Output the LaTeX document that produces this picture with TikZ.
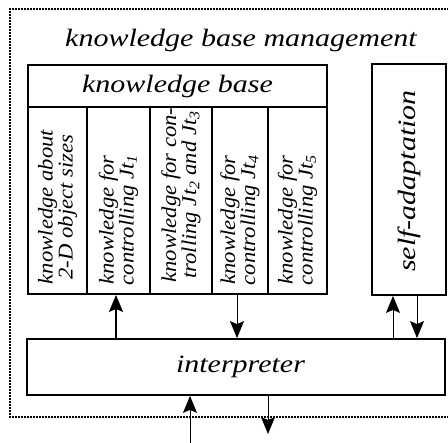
\documentclass[tikz,border=0pt]{standalone}
\usepackage{fontspec}
\usetikzlibrary{arrows.meta}
\newfontfamily\bigf[FakeStretch=1.2]{Liberation Serif}
\newfontfamily\colf[FakeStretch=1.08]{Liberation Serif}
\begin{document}
\begin{tikzpicture}[x=1pt,y=-1pt,
  box/.style={draw, line width=1.8pt, inner sep=0pt},
  bigtext/.style={font=\bigf\itshape\fontsize{25}{29}\selectfont, inner sep=0pt},
  coltext/.style={font=\colf\itshape\fontsize{21}{19}\selectfont, inner sep=0pt, align=center, rotate=90},
  border/.style={line width=2.6pt, dash pattern=on 2pt off 1pt},
  arr/.style={line width=1pt, -{Stealth[length=17pt,width=14pt,inset=3pt]}},
  arrthick/.style={line width=2pt, -{Stealth[length=17pt,width=14pt,inset=3pt]}}]
\useasboundingbox (0,0) rectangle (448,443);
\fill[white] (0,0) rectangle (448,443);
% outer dotted frame
\draw[border] (455,9) -- (10,9) -- (10,417) -- (455,417);
% title
\node[bigtext, anchor=base] (mgmt) at (241,47) {knowledge base management};
% knowledge base header
\node[box, bigtext, minimum width=299pt, minimum height=42pt] (kbh) at (177.5,86) {knowledge base};
% columns
\node[box, minimum width=59pt, minimum height=187pt] (c1) at (57.5,200.5) {};
\node[box, minimum width=63pt, minimum height=187pt] (c2) at (118.5,200.5) {};
\node[box, minimum width=62pt, minimum height=187pt] (c3) at (181,200.5) {};
\node[box, minimum width=56pt, minimum height=187pt] (c4) at (240,200.5) {};
\node[box, minimum width=59pt, minimum height=187pt] (c5) at (297.5,200.5) {};
\node[coltext] (t1) at (57.5,207) {knowledge about\\2-D object sizes};
\node[coltext] (t2) at (118.5,220) {knowledge for\\controlling \textit{Jt}\textsubscript{1}};
\node[coltext] (t3) at (181,195) {knowledge for con-\\trolling \textit{Jt}\textsubscript{2} and \textit{Jt}\textsubscript{3}};
\node[coltext] (t4) at (240,220) {knowledge for\\controlling \textit{Jt}\textsubscript{4}};
\node[coltext] (t5) at (297.5,220) {knowledge for\\controlling \textit{Jt}\textsubscript{5}};
% self-adaptation
\node[box, minimum width=74pt, minimum height=231pt] (self) at (409,179.5) {};
\node[bigtext, rotate=90] (selft) at (409,181) {self-adaptation};
% interpreter
\node[box, bigtext, minimum width=418pt, minimum height=56pt] (interp) at (236,367) {\hspace*{9pt}interpreter};
% arrows between blocks
\draw[arrthick] ([xshift=-2.5pt]c2.south |- interp.north) -- ([xshift=-2.5pt]c2.south);
\draw[arr] ([xshift=-3pt]c4.south) -- ([xshift=-3pt]c4.south |- interp.north);
\draw[arr] ([xshift=-16pt]self.south |- interp.north) -- ([xshift=-16pt]self.south);
\draw[arr] ([xshift=8pt]self.south) -- ([xshift=8pt]self.south |- interp.north);
% input / output
\coordinate (in) at (190,445);
\coordinate (out) at (268,434);
\draw[arr] (in) -- (in |- interp.south);
\draw[arr] (out |- interp.south) -- (out);
\end{tikzpicture}
\end{document}
